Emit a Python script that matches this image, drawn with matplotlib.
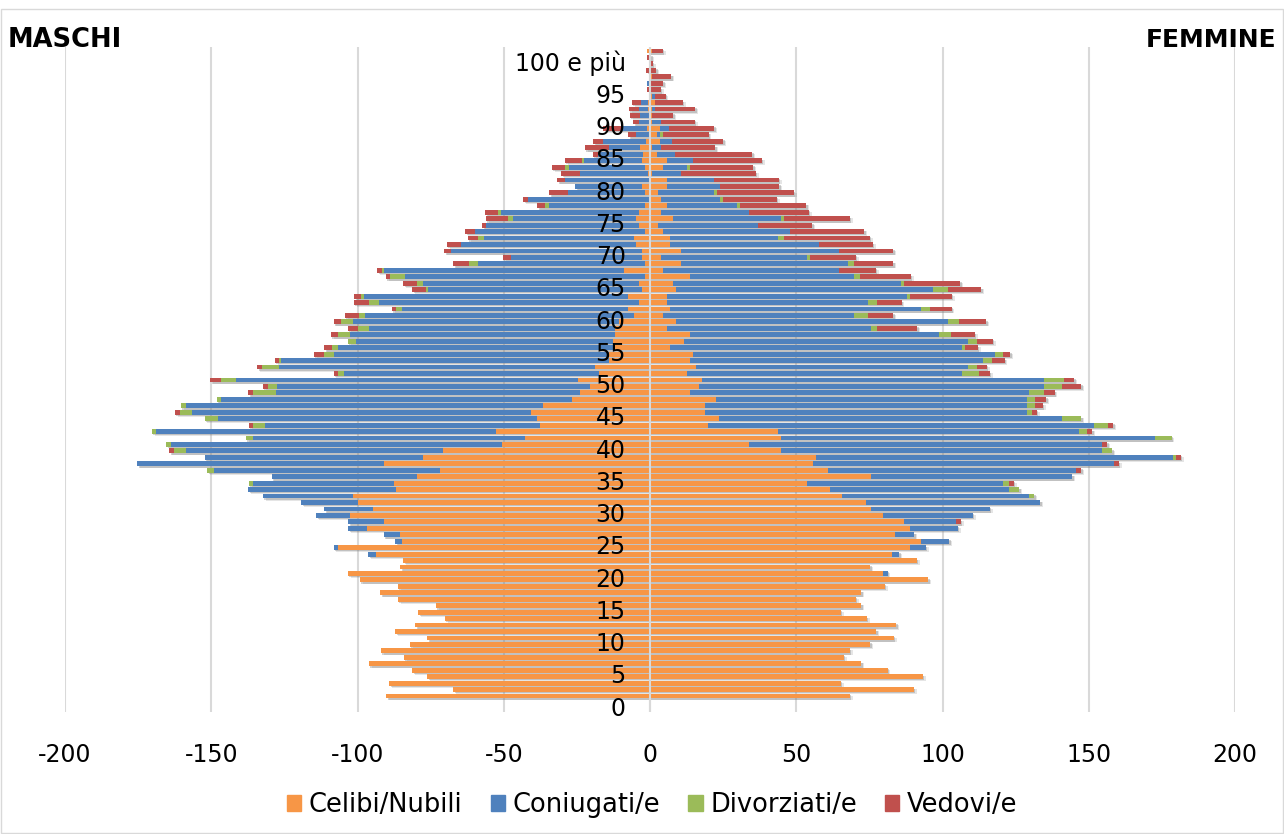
import matplotlib.pyplot as plt
import numpy as np
from matplotlib.patches import Patch, Rectangle

plt.rcParams['font.family'] = ['DejaVu Sans']
plt.rcParams['axes.unicode_minus'] = False

ages = np.arange(0, 101)

# maschi, per età 0..100 (migliaia)
m_celibi = [
    90.2, 67.3, 89.2, 76.2, 81.2, 96.2, 84.1, 92.1, 82.1, 76.2,
    87.1, 80.2, 70.2, 79.3, 73.2, 86.2, 92.2, 86.2, 99.2, 103.3,
    85.3, 84.4, 93.8, 106.7, 84.7, 85.6, 96.7, 90.8, 102.6, 94.7,
    99.8, 101.5, 86.7, 87.6, 79.8, 71.8, 90.8, 77.6, 70.6, 50.6,
    42.7, 52.7, 37.6, 38.8, 40.8, 36.7, 26.8, 23.8, 20.6, 24.7,
    17.6, 18.8, 14.0, 14.1, 12.7, 12.7, 11.8, 11.8, 10.6, 5.6,
    7.6, 3.8, 7.6, 2.7, 3.8, 1.8, 8.8, 1.8, 2.7, 2.7,
    4.7, 5.6, 1.8, 3.8, 4.7, 3.8, 1.8, 0.4, 1.8, 2.9,
    0.3, 0.6, 1.8, 2.9, 2.4, 3.5, 1.2, 0.4, 1.0, 0.4,
    0.5, 0.8, 0.6, 0, 0, 0, 0, 0, 0, 0,
    1.0]
m_coniugati = [
    0, 0, 0, 0, 0, 0, 0, 0, 0, 0,
    0, 0, 0, 0, 0, 0, 0, 0, 0, 0,
    0, 0, 2.5, 1.5, 2.4, 5.5, 6.5, 12.4, 11.5, 16.7,
    19.4, 30.8, 50.6, 48.0, 49.6, 77.1, 84.5, 74.7, 88.0, 113.2,
    92.9, 116.1, 94.1, 108.8, 115.9, 121.9, 119.9, 103.9, 107.0, 116.9,
    87.1, 108.0, 112.0, 94.1, 94.0, 87.9, 90.9, 84.1, 90.9, 92.0,
    77.1, 88.9, 90.2, 73.1, 73.9, 82.0, 82.0, 57.1, 44.9, 65.2,
    60.0, 51.1, 58.2, 52.1, 42.1, 47.1, 32.9, 41.4, 26.1, 22.6,
    28.8, 23.2, 25.9, 19.6, 15.3, 10.6, 14.7, 4.4, 9.0, 3.2,
    2.9, 2.9, 2.4, 0, 0, 1.0, 0, 0, 0, 0,
    0]
m_divorziati = [
    0, 0, 0, 0, 0, 0, 0, 0, 0, 0,
    0, 0, 0, 0, 0, 0, 0, 0, 0, 0,
    0, 0, 0, 0, 0, 0, 0, 0, 0, 0,
    0, 0, 0, 1.6, 0, 2.4, 0, 0, 4.1, 1.5,
    2.6, 1.5, 3.9, 4.7, 3.9, 1.8, 1.5, 8.0, 2.9, 5.1,
    2.0, 5.9, 0.8, 3.2, 1.9, 2.7, 3.8, 3.9, 4.1, 2.0,
    2.0, 3.2, 0.9, 0.9, 2.1, 5.1, 0.9, 2.9, 0, 0,
    0, 2.1, 0, 0, 1.8, 0.9, 1.2, 0, 0, 0,
    0, 0, 1.2, 0.8, 0, 0, 0, 0, 0, 0,
    0, 0, 0, 0, 0, 0, 0, 0, 0, 0,
    0]
m_vedovi = [
    0, 0, 0, 0, 0, 0, 0, 0, 0, 0,
    0, 0, 0, 0, 0, 0, 0, 0, 0, 0,
    0, 0, 0, 0, 0, 0, 0, 0, 0, 0,
    0, 0, 0, 0, 0, 0, 0, 0, 1.6, 0,
    0, 0, 1.6, 0, 1.8, 0, 0, 1.6, 1.8, 3.6,
    1.5, 1.6, 1.5, 3.5, 2.8, 0, 2.7, 3.5, 2.6, 4.7,
    1.5, 5.3, 2.4, 4.5, 4.6, 1.4, 1.5, 5.5, 2.7, 2.4,
    4.7, 3.5, 3.2, 1.5, 7.6, 4.5, 2.6, 1.5, 6.5, 0,
    2.6, 6.5, 4.7, 5.9, 1.8, 8.2, 3.5, 2.6, 6.0, 2.1,
    3.5, 3.5, 3.2, 0.5, 1.0, 0, 0.5, 1.2, 0.5, 1.0,
    0]

# femmine, per età 0..100
f_nubili = [
    68.3, 90.2, 65.3, 93.2, 81.2, 72.3, 66.3, 68.3, 75.3, 83.3,
    77.3, 84.2, 74.2, 65.3, 72.3, 70.3, 72.3, 80.3, 95.2, 79.6,
    75.3, 91.2, 82.8, 88.8, 92.8, 83.8, 88.8, 86.8, 79.6, 75.7,
    73.9, 65.8, 61.7, 53.7, 75.7, 60.7, 55.7, 56.8, 44.8, 33.7,
    44.8, 43.8, 19.7, 23.7, 18.7, 18.7, 22.7, 13.8, 16.7, 17.8,
    12.8, 15.8, 13.8, 14.7, 6.7, 11.6, 13.8, 5.7, 8.8, 4.6,
    6.7, 5.7, 5.7, 8.8, 7.8, 13.8, 4.6, 10.7, 3.7, 10.7,
    6.7, 6.7, 4.6, 2.7, 7.8, 3.7, 5.7, 3.7, 2.7, 5.7,
    5.7, 0.8, 4.6, 5.7, 2.4, 0.6, 3.4, 2.4, 3.4, 0.6,
    0.6, 0.6, 1.6, 0.6, 0, 0, 0.6, 0, 0, 0,
    0.6]
f_coniugate = [
    0, 0, 0, 0, 0, 0, 0, 0, 0, 0,
    0, 0, 0, 0, 0, 0, 0, 0, 0, 1.6,
    0, 0, 2.4, 5.5, 9.5, 6.5, 16.5, 17.8, 30.8, 40.5,
    59.5, 63.9, 60.9, 66.9, 68.6, 85.1, 103.1, 122.0, 109.9, 121.0,
    128.0, 102.9, 132.0, 117.1, 110.1, 110.1, 106.1, 115.9, 118.1, 117.0,
    94.0, 92.9, 100.0, 103.1, 100.1, 97.1, 85.0, 70.0, 93.0, 65.1,
    86.1, 69.0, 82.2, 87.9, 78.0, 55.9, 60.1, 57.0, 50.1, 54.0,
    51.0, 37.1, 43.2, 34.1, 37.0, 30.2, 24.1, 20.1, 19.2, 18.1,
    16.1, 9.9, 8.2, 8.9, 6.1, 3.0, 4.2, 1.0, 3.0, 3.0,
    0, 1.0, 0, 1.0, 0, 0, 0, 0, 0, 0,
    0]
f_divorziate = [
    0, 0, 0, 0, 0, 0, 0, 0, 0, 0,
    0, 0, 0, 0, 0, 0, 0, 0, 0, 0,
    0, 0, 0, 0, 0, 0, 0, 0, 0, 0,
    0, 1.6, 3.7, 2.0, 0, 0, 0, 1.0, 3.4, 0,
    5.5, 2.8, 4.9, 6.6, 1.8, 2.9, 2.9, 4.9, 5.9, 6.8,
    5.7, 3.1, 3.1, 2.9, 0.9, 3.1, 4.0, 2.0, 3.8, 5.0,
    2.9, 2.9, 1.0, 5.1, 1.0, 2.0, 0, 2.0, 1.0, 0,
    0, 2.0, 0, 0, 1.0, 0, 1.0, 1.0, 1.0, 0,
    0, 0, 1.0, 0, 0, 0, 0, 1.0, 0, 0,
    0, 0, 0, 0, 0, 0, 0, 0, 0, 0,
    0]
f_vedove = [
    0, 0, 0, 0, 0, 0, 0, 0, 0, 0,
    0, 0, 0, 0, 0, 0, 0, 0, 0, 0,
    0, 0, 0, 0, 0, 0, 0, 1.6, 0, 0,
    0, 0, 0, 1.7, 0, 1.6, 1.5, 1.6, 0, 1.6,
    0, 1.7, 1.8, 0, 1.7, 2.6, 3.7, 3.7, 6.7, 3.4,
    3.7, 3.3, 4.3, 2.4, 4.4, 5.4, 8.3, 13.6, 9.4, 8.4,
    7.4, 8.4, 14.3, 11.4, 19.3, 17.5, 12.5, 13.4, 15.5, 18.4,
    18.4, 29.4, 25.4, 18.6, 22.5, 20.4, 22.6, 18.6, 26.3, 20.4,
    22.3, 25.5, 21.5, 23.7, 26.5, 18.7, 17.5, 15.6, 15.6, 11.7,
    7.3, 13.8, 9.6, 3.7, 3.7, 4.6, 6.7, 2.2, 1.0, 0.5,
    3.7]

labels = ['Celibi/Nubili', 'Coniugati/e', 'Divorziati/e', 'Vedovi/e']
colors = ['#F79646', '#4F81BD', '#9BBB59', '#C0504D']
maschi = [m_celibi, m_coniugati, m_divorziati, m_vedovi]
femmine = [f_nubili, f_coniugate, f_divorziate, f_vedove]

fig = plt.figure(figsize=(12.84, 8.34), dpi=100)
ax = fig.add_axes([65 / 1284, 1 - 712 / 834, 1170 / 1284, 665 / 834])

h = 0.75
m_tot = np.sum(maschi, axis=0)
f_tot = np.sum(femmine, axis=0)

# ombra sotto le barre
for dx, dy, al in [(0.5, -0.22, 0.35), (1.0, -0.32, 0.2)]:
    ax.barh(ages + dy, -m_tot, left=dx, height=h, color='#7f7f7f',
            alpha=al, lw=0, zorder=1)
    ax.barh(ages + dy, f_tot, left=dx, height=h, color='#7f7f7f',
            alpha=al, lw=0, zorder=1)

cum_m = np.zeros(len(ages))
cum_f = np.zeros(len(ages))
for vm, vf, c in zip(maschi, femmine, colors):
    vm = np.array(vm)
    vf = np.array(vf)
    ax.barh(ages, -vm, left=-cum_m, height=h, color=c, lw=0, zorder=2)
    ax.barh(ages, vf, left=cum_f, height=h, color=c, lw=0, zorder=2)
    cum_m += vm
    cum_f += vf

ax.axvline(0, color='#D9D9D9', lw=1.5, zorder=3)

ax.set_xlim(-200, 200)
ax.set_ylim(-2.48, 100.62)
ax.set_xticks(range(-200, 201, 50))
ax.set_yticks([])
ax.tick_params(axis='x', length=0, pad=22, labelsize=17)
ax.grid(axis='x', color='#D9D9D9', lw=1.5)
ax.set_axisbelow(True)
for s in ax.spines.values():
    s.set_visible(False)

# etichette delle classi di età
for a in range(0, 101, 5):
    txt = '100 e più' if a == 100 else str(a)
    ax.text(-8.3, a - 1.95, txt, ha='right', va='center', fontsize=17,
            zorder=5)

fig.text(8 / 1284, 1 - 40 / 834, 'MASCHI', fontsize=18.5, fontweight='bold',
         ha='left', va='center')
fig.text(1276 / 1284, 1 - 40 / 834, 'FEMMINE', fontsize=18,
         fontweight='bold', ha='right', va='center')

handles = [Patch(color=c, label=l) for c, l in zip(colors, labels)]
fig.legend(handles=handles, loc='center',
           bbox_to_anchor=(0.508, 1 - 805 / 834),
           ncol=4, frameon=False, fontsize=18.5, handlelength=0.55,
           handleheight=0.55, handletextpad=0.3, columnspacing=1.1)

fig.add_artist(Rectangle((1 / 1284, 1 / 834), 1282 / 1284, 824 / 834,
                         transform=fig.transFigure, fill=False,
                         edgecolor='#D9D9D9', lw=1))

fig.savefig('out.png', dpi=100)
